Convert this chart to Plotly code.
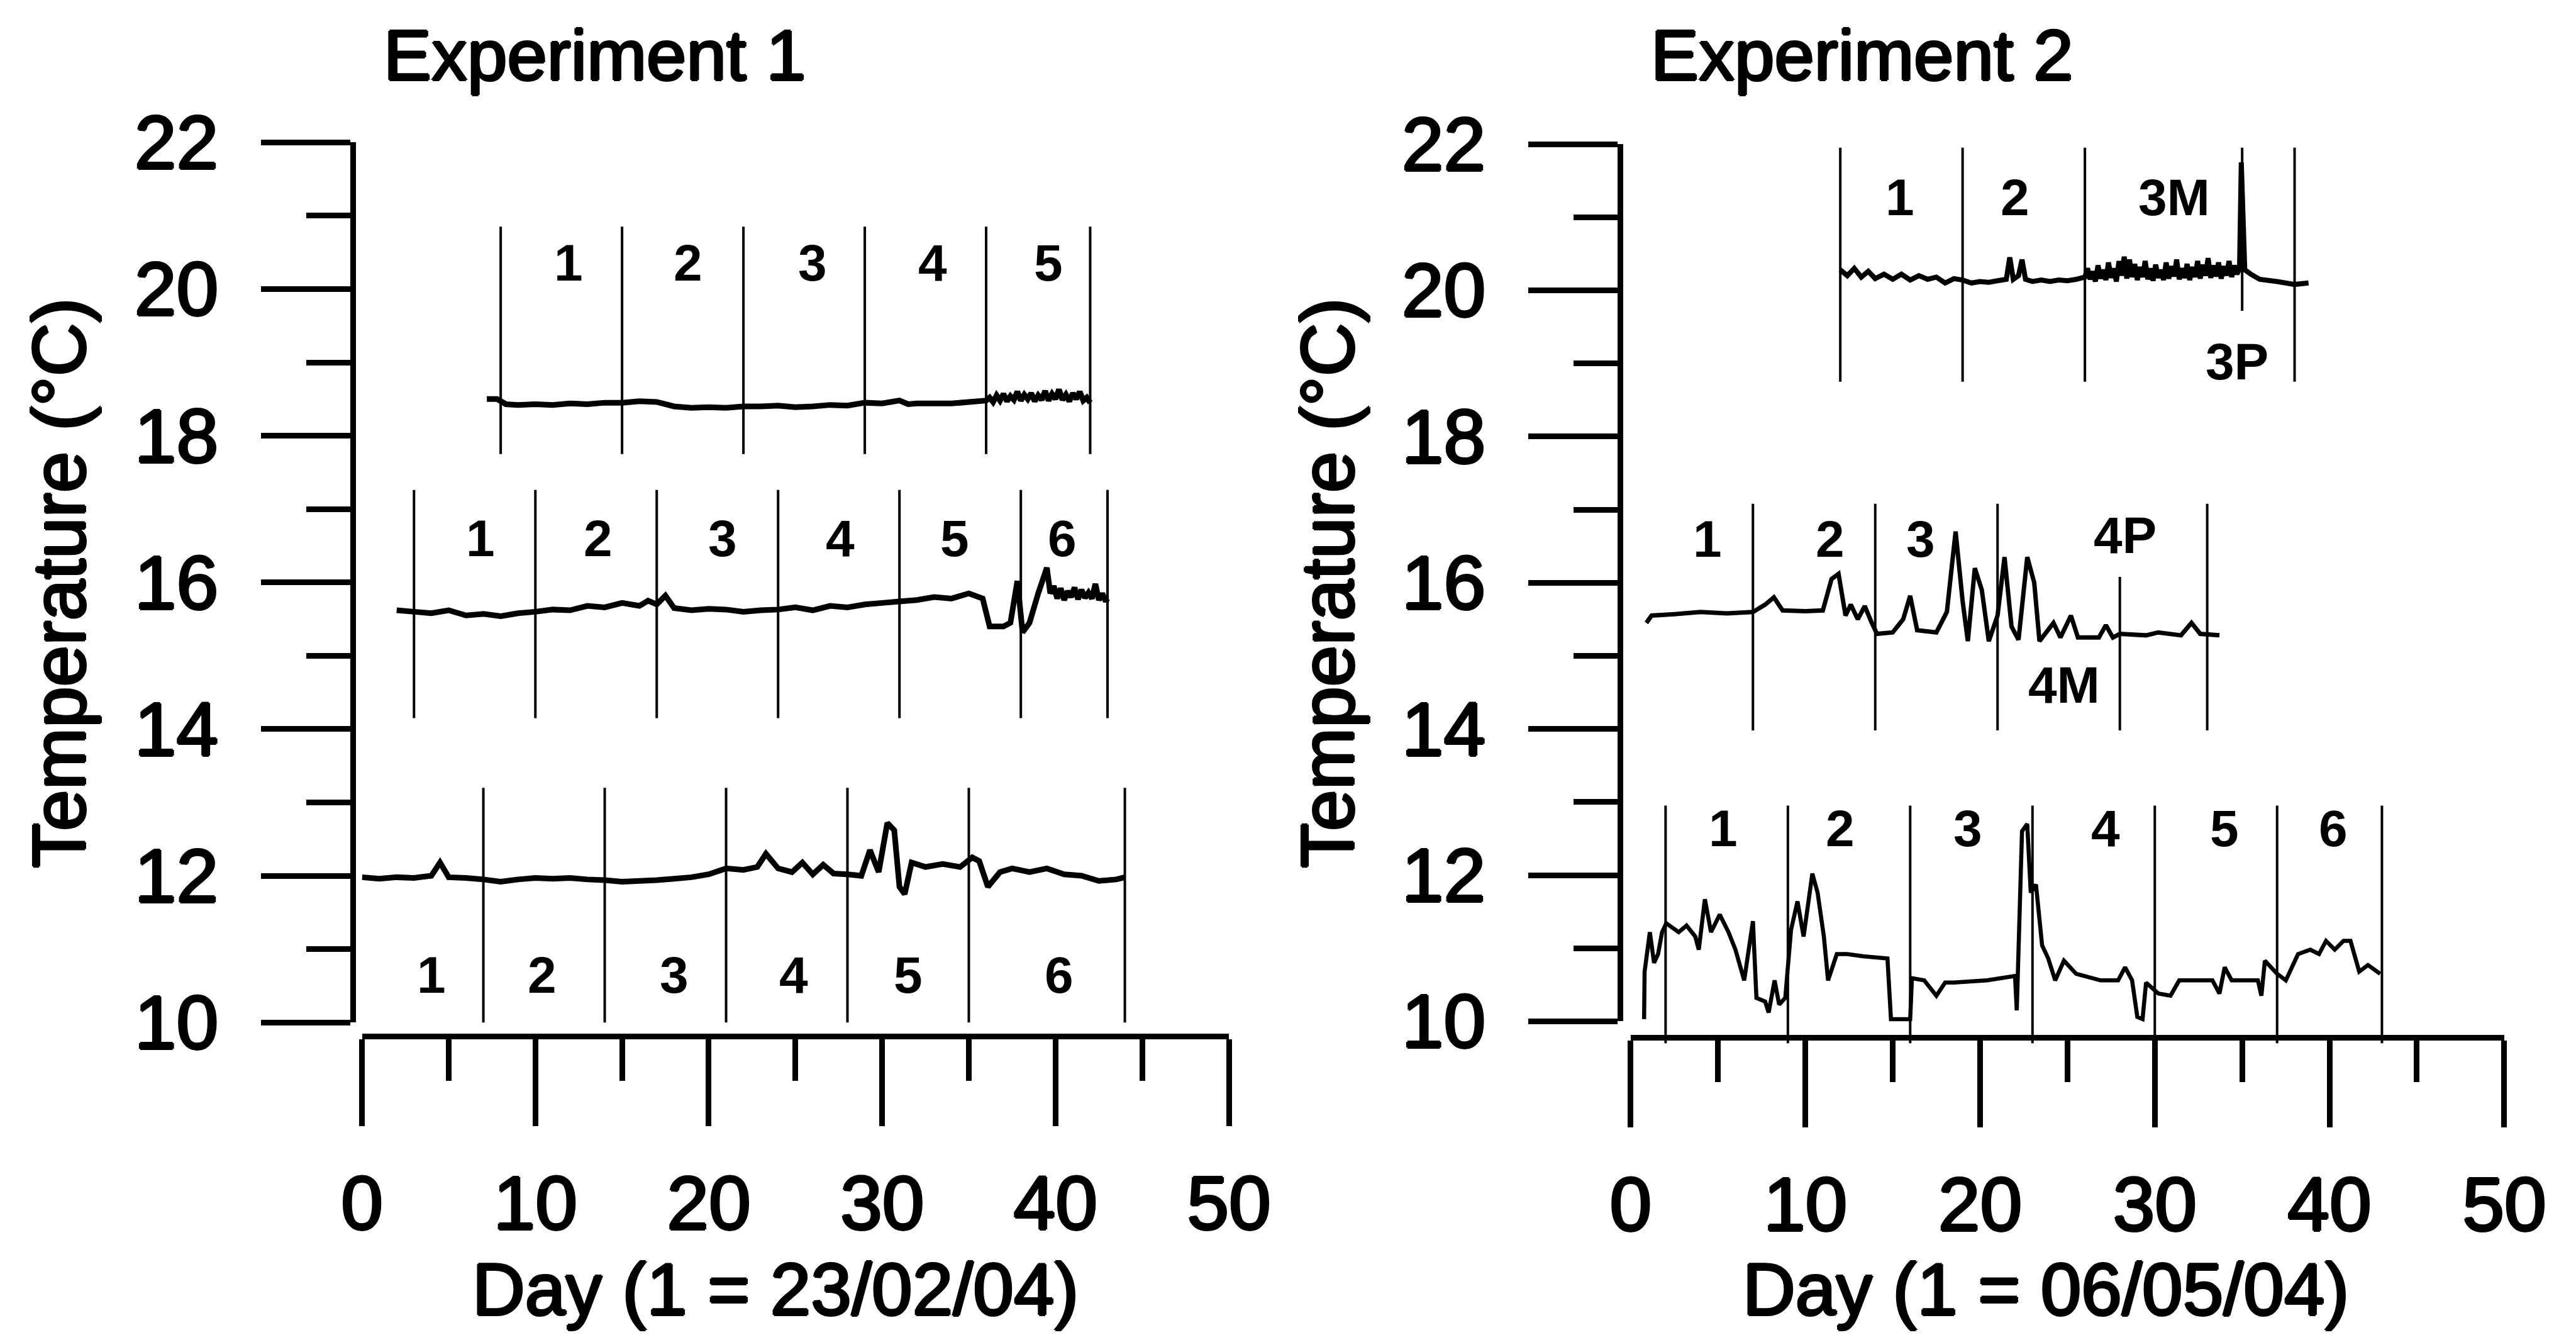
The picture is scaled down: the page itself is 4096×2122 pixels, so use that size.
import plotly.graph_objects as go

# ---------------------------------------------------------------
# Experiment 1  (day 1 = 23/02/04) - three water-temperature records
# ---------------------------------------------------------------
e1_top_day = [7.2, 7.8, 8.3, 9.0, 10.0, 11.0, 12.0, 13.0, 14.0, 15.0,
              16.0, 17.0, 18.0, 19.0, 20.0, 21.0, 22.0, 23.0, 24.0, 25.0,
              26.0, 27.0, 28.0, 29.0, 30.0, 31.0, 31.5, 32.0, 33.0, 34.0,
              35.0, 36.0, 36.2, 36.4, 36.6, 36.8, 37.0, 37.2, 37.4, 37.6,
              37.8, 38.0, 38.2, 38.4, 38.6, 38.8, 39.0, 39.2, 39.4, 39.6,
              39.8, 40.0, 40.2, 40.4, 40.6, 40.8, 41.0, 41.2, 41.4, 41.6,
              41.8, 42.0]
e1_top_temp = [18.50, 18.50, 18.43, 18.42, 18.43, 18.42, 18.44, 18.43, 18.45, 18.45,
               18.47, 18.46, 18.40, 18.38, 18.39, 18.38, 18.40, 18.40, 18.41, 18.39,
               18.40, 18.42, 18.41, 18.45, 18.44, 18.48, 18.43, 18.44, 18.44, 18.44,
               18.46, 18.48, 18.52, 18.46, 18.55, 18.48, 18.57, 18.47, 18.54, 18.49,
               18.60, 18.48, 18.56, 18.50, 18.58, 18.47, 18.55, 18.49, 18.61, 18.48,
               18.57, 18.50, 18.63, 18.49, 18.56, 18.47, 18.58, 18.50, 18.60, 18.48,
               18.52, 18.45]

e1_mid_day = [2.0, 3.0, 4.0, 5.0, 6.0, 7.0, 8.0, 9.0, 10.0, 11.0,
              12.0, 13.0, 14.0, 15.0, 16.0, 16.5, 17.0, 17.5, 18.0, 19.0,
              20.0, 21.0, 22.0, 23.0, 24.0, 25.0, 26.0, 27.0, 28.0, 29.0,
              30.0, 31.0, 32.0, 33.0, 34.0, 35.0, 35.8, 36.2, 37.0, 37.4,
              37.8, 38.1, 38.5, 39.0, 39.5, 39.7, 39.9, 40.1, 40.3, 40.5,
              40.7, 40.9, 41.1, 41.3, 41.5, 41.7, 41.9, 42.1, 42.3, 42.5,
              42.7, 42.9, 43.0]
e1_mid_temp = [15.62, 15.60, 15.58, 15.62, 15.55, 15.57, 15.54, 15.58, 15.60, 15.63,
               15.62, 15.68, 15.66, 15.72, 15.68, 15.75, 15.70, 15.82, 15.65, 15.62,
               15.64, 15.63, 15.60, 15.62, 15.63, 15.66, 15.62, 15.68, 15.66, 15.70,
               15.72, 15.74, 15.76, 15.80, 15.78, 15.85, 15.78, 15.40, 15.40, 15.45,
               16.02, 15.32, 15.45, 15.85, 16.20, 15.85, 15.95, 15.78, 15.92, 15.76,
               15.88, 15.80, 15.93, 15.77, 15.90, 15.79, 15.86, 15.78, 15.98, 15.76,
               15.85, 15.74, 15.78]

e1_low_day = [0.0, 1.0, 2.0, 3.0, 4.0, 4.5, 5.0, 6.0, 7.0, 8.0,
              9.0, 10.0, 11.0, 12.0, 13.0, 14.0, 15.0, 16.0, 17.0, 18.0,
              19.0, 20.0, 21.0, 22.0, 22.8, 23.3, 24.0, 24.8, 25.4, 26.0,
              26.6, 27.2, 28.0, 28.8, 29.3, 29.8, 30.3, 30.7, 31.0, 31.3,
              31.7, 32.5, 33.5, 34.5, 35.2, 35.6, 36.1, 36.8, 37.5, 38.5,
              39.5, 40.5, 41.5, 42.5, 43.5, 44.0]
e1_low_temp = [11.98, 11.96, 11.98, 11.97, 12.00, 12.18, 11.98, 11.97, 11.95, 11.92,
               11.95, 11.97, 11.96, 11.97, 11.95, 11.94, 11.92, 11.93, 11.94, 11.96,
               11.98, 12.02, 12.10, 12.08, 12.12, 12.30, 12.10, 12.05, 12.18, 12.02,
               12.15, 12.03, 12.02, 12.00, 12.35, 12.05, 12.72, 12.62, 11.85, 11.75,
               12.18, 12.12, 12.16, 12.12, 12.25, 12.20, 11.85, 12.05, 12.10, 12.05,
               12.10, 12.02, 12.00, 11.93, 11.95, 11.98]

# phase boundaries (day) and the temperature span of their marker lines
e1_top_bounds = [8, 15, 22, 29, 36, 42]
e1_top_span = [17.75, 20.85]
e1_mid_bounds = [3, 10, 17, 24, 31, 38, 43]
e1_mid_span = [14.15, 17.26]
e1_low_bounds = [7, 14, 21, 28, 35, 44]
e1_low_span = [10.0, 13.2]

# phase labels
e1_top_labels = ["1", "2", "3", "4", "5"]
e1_top_label_day = [11.9, 18.8, 26.0, 32.9, 39.6]
e1_top_label_temp = [20.36] * 5
e1_mid_labels = ["1", "2", "3", "4", "5", "6"]
e1_mid_label_day = [6.85, 13.6, 20.8, 27.6, 34.2, 40.4]
e1_mid_label_temp = [16.6] * 6
e1_low_labels = ["1", "2", "3", "4", "5", "6"]
e1_low_label_day = [4.0, 10.4, 18.0, 24.9, 31.5, 40.2]
e1_low_label_temp = [10.65] * 6

# ---------------------------------------------------------------
# Experiment 2  (day 1 = 06/05/04)
# ---------------------------------------------------------------
e2_top_day = [12.0, 12.4, 12.8, 13.2, 13.6, 14.0, 14.5, 15.0, 15.5, 16.0,
              16.5, 17.0, 17.5, 18.0, 18.5, 19.0, 19.5, 20.0, 20.5, 21.0,
              21.5, 21.7, 21.9, 22.2, 22.4, 22.6, 23.0, 23.5, 24.0, 24.5,
              25.0, 25.5, 26.0, 26.15, 26.3, 26.45, 26.6, 26.75, 26.9, 27.05,
              27.2, 27.35, 27.5, 27.65, 27.8, 27.95, 28.1, 28.25, 28.4, 28.55,
              28.7, 28.85, 29.0, 29.15, 29.3, 29.45, 29.6, 29.75, 29.9, 30.05,
              30.2, 30.35, 30.5, 30.65, 30.8, 30.95, 31.1, 31.25, 31.4, 31.55,
              31.7, 31.85, 32.0, 32.15, 32.3, 32.45, 32.6, 32.75, 32.9, 33.05,
              33.2, 33.35, 33.5, 33.65, 33.8, 33.95, 34.1, 34.25, 34.4, 34.55,
              34.7, 34.85, 34.95, 35.15, 35.5, 36.0, 37.0, 38.0, 38.8]
e2_top_temp = [20.28, 20.20, 20.30, 20.18, 20.26, 20.16, 20.22, 20.15, 20.22, 20.14,
               20.20, 20.15, 20.18, 20.10, 20.16, 20.14, 20.10, 20.12, 20.11, 20.13,
               20.15, 20.45, 20.15, 20.20, 20.42, 20.15, 20.12, 20.14, 20.12, 20.14,
               20.13, 20.15, 20.18, 20.30, 20.15, 20.26, 20.12, 20.34, 20.16, 20.28,
               20.14, 20.38, 20.17, 20.30, 20.12, 20.40, 20.20, 20.46, 20.16, 20.42,
               20.18, 20.36, 20.14, 20.32, 20.18, 20.40, 20.15, 20.30, 20.13, 20.35,
               20.17, 20.28, 20.14, 20.38, 20.16, 20.33, 20.19, 20.42, 20.15, 20.30,
               20.17, 20.36, 20.14, 20.32, 20.18, 20.40, 20.16, 20.35, 20.20, 20.44,
               20.17, 20.34, 20.19, 20.38, 20.16, 20.33, 20.20, 20.40, 20.18, 20.34,
               20.22, 20.30, 21.75, 20.28, 20.22, 20.15, 20.12, 20.08, 20.10]

e2_mid_day = [0.9, 1.2, 2.5, 4.0, 5.5, 7.0, 7.7, 8.2, 8.7, 10.0,
              11.0, 11.5, 11.9, 12.3, 12.6, 13.0, 13.4, 13.8, 14.1, 15.0,
              15.6, 16.0, 16.4, 17.5, 18.1, 18.6, 19.0, 19.3, 19.7, 20.1,
              20.5, 21.0, 21.4, 21.8, 22.2, 22.7, 23.1, 23.4, 24.2, 24.6,
              25.2, 25.6, 26.8, 27.2, 27.6, 28.0, 29.5, 30.2, 31.5, 32.1,
              32.6, 33.7]
e2_mid_temp = [15.45, 15.55, 15.57, 15.60, 15.58, 15.60, 15.70, 15.80, 15.62, 15.61,
               15.62, 16.05, 16.12, 15.55, 15.70, 15.50, 15.68, 15.45, 15.30, 15.32,
               15.50, 15.82, 15.35, 15.32, 15.60, 16.70, 15.75, 15.20, 16.20, 15.90,
               15.20, 15.55, 16.35, 15.40, 15.22, 16.35, 16.00, 15.20, 15.45, 15.25,
               15.55, 15.25, 15.25, 15.42, 15.25, 15.30, 15.28, 15.32, 15.28, 15.45,
               15.30, 15.28]

e2_low_day = [0.77, 0.8, 1.1, 1.34, 1.57, 1.8, 2.04, 2.75, 3.2, 3.7,
              3.9, 4.25, 4.6, 5.1, 5.6, 6.0, 6.5, 7.0, 7.2, 7.7,
              7.9, 8.24, 8.5, 8.85, 9.18, 9.55, 9.9, 10.4, 10.7, 11.06,
              11.3, 11.8, 12.4, 13.3, 14.7, 14.9, 16.0, 16.1, 16.8, 17.5,
              18.0, 18.5, 20.4, 22.0, 22.1, 22.4, 22.7, 22.9, 23.2, 23.55,
              23.9, 24.3, 24.8, 25.5, 26.9, 27.9, 28.3, 28.7, 29.0, 29.3,
              29.5, 30.2, 30.9, 31.4, 33.3, 33.7, 34.0, 34.4, 35.9, 36.1,
              36.3, 37.0, 37.5, 38.2, 38.9, 39.4, 39.8, 40.3, 40.8, 41.2,
              41.7, 42.2, 42.9]
e2_low_temp = [10.03, 10.68, 11.22, 10.80, 10.92, 11.22, 11.34, 11.22, 11.31, 11.16,
               10.98, 11.67, 11.22, 11.46, 11.22, 10.98, 10.56, 11.37, 10.32, 10.27,
               10.12, 10.56, 10.23, 10.32, 11.25, 11.64, 11.16, 12.02, 11.76, 11.16,
               10.56, 10.92, 10.92, 10.89, 10.86, 10.03, 10.03, 10.59, 10.56, 10.35,
               10.53, 10.53, 10.56, 10.62, 10.15, 12.60, 12.70, 11.76, 11.87, 11.04,
               10.86, 10.56, 10.83, 10.65, 10.56, 10.56, 10.74, 10.56, 10.06, 10.03,
               10.53, 10.38, 10.35, 10.56, 10.56, 10.38, 10.74, 10.56, 10.56, 10.35,
               10.83, 10.65, 10.56, 10.92, 10.98, 10.92, 11.10, 10.98, 11.10, 11.10,
               10.68, 10.77, 10.65]

e2_top_bounds = [12, 19, 26, 38]
e2_top_span = [18.75, 21.95]
e2_top_sub_bounds = [35]          # 3M / 3P split
e2_top_sub_span = [19.72, 21.95]
e2_mid_bounds = [7, 14, 21, 33]
e2_mid_span = [13.98, 17.08]
e2_mid_sub_bounds = [28]          # 4M / 4P split
e2_mid_sub_span = [13.98, 16.08]
e2_low_bounds = [2, 9, 16, 23, 30, 37, 43]
e2_low_span = [9.7, 12.95]

e2_top_labels = ["1", "2", "3M", "3P"]
e2_top_label_day = [15.4, 22.0, 31.1, 34.7]
e2_top_label_temp = [21.27, 21.27, 21.27, 19.03]
e2_mid_labels = ["1", "2", "3", "4P", "4M"]
e2_mid_label_day = [4.4, 11.4, 16.6, 28.3, 24.8]
e2_mid_label_temp = [16.6, 16.6, 16.6, 16.65, 14.6]
e2_low_labels = ["1", "2", "3", "4", "5", "6"]
e2_low_label_day = [5.3, 12.0, 19.3, 27.2, 34.0, 40.2]
e2_low_label_temp = [12.64] * 6

# axis ticks and text
y_major = [10, 12, 14, 16, 18, 20, 22]
x_major = [0, 10, 20, 30, 40, 50]
panel_titles = ["Experiment 1", "Experiment 2"]
x_titles = ["Day (1 = 23/02/04)", "Day (1 = 06/05/04)"]
y_title = "Temperature (°C)"

# ---------------------------------------------------------------
# page geometry (pixels on a 4096 x 2122 page)
# ---------------------------------------------------------------
W, H = 4096, 2122
FONT = "Liberation Sans, Arial, Helvetica, sans-serif"
INK = "black"
# a thin outline that gives the lettering its heavy printed look
HEAVY = "2px 0px 0px #000, -2px 0px 0px #000, 0px 2px 0px #000, 0px -2px 0px #000"

panels = [
    dict(x0=575.6, x50=1954.0, y22=226.3, y10=1625.2, xline=1647.0, yline=561.0,
         title_x=608, xtitle_x=1233, ytitle_x=94),
    dict(x0=2592.8, x50=3981.9, y22=229.0, y10=1623.4, xline=1649.0, yline=2576.0,
         title_x=2623, xtitle_x=3253, ytitle_x=2111),
]

records = [
    dict(series=[(e1_top_day, e1_top_temp, 9), (e1_mid_day, e1_mid_temp, 9),
                 (e1_low_day, e1_low_temp, 9)],
         bounds=[(e1_top_bounds, e1_top_span), (e1_mid_bounds, e1_mid_span),
                 (e1_low_bounds, e1_low_span)],
         labels=[(e1_top_labels, e1_top_label_day, e1_top_label_temp),
                 (e1_mid_labels, e1_mid_label_day, e1_mid_label_temp),
                 (e1_low_labels, e1_low_label_day, e1_low_label_temp)]),
    dict(series=[(e2_top_day, e2_top_temp, 8), (e2_mid_day, e2_mid_temp, 7),
                 (e2_low_day, e2_low_temp, 6.5)],
         bounds=[(e2_top_bounds, e2_top_span), (e2_top_sub_bounds, e2_top_sub_span),
                 (e2_mid_bounds, e2_mid_span), (e2_mid_sub_bounds, e2_mid_sub_span),
                 (e2_low_bounds, e2_low_span)],
         labels=[(e2_top_labels, e2_top_label_day, e2_top_label_temp),
                 (e2_mid_labels, e2_mid_label_day, e2_mid_label_temp),
                 (e2_low_labels, e2_low_label_day, e2_low_label_temp)]),
]


def fx(p):
    return p / W


def fy(p):
    return 1 - p / H


fig = go.Figure()
layout = dict(
    template="none",
    width=W, height=H,
    margin=dict(l=0, r=0, t=0, b=0, pad=0, autoexpand=False),
    paper_bgcolor="white", plot_bgcolor="rgba(0,0,0,0)",
    showlegend=False,
    annotations=[],
)

LINE_W = 8.5
for i, (pn, rec) in enumerate(zip(panels, records)):
    xa = "x" if i == 0 else "x2"
    xkey = "xaxis" if i == 0 else "xaxis2"
    yd = "y" if i == 0 else "y3"          # data axis (hidden)
    ydkey = "yaxis" if i == 0 else "yaxis3"
    yv = "y2" if i == 0 else "y4"         # visible temperature axis
    yvkey = "yaxis2" if i == 0 else "yaxis4"

    s = (pn["y10"] - pn["y22"]) / 12.0
    lo, hi = 9.6, 22.4
    layout[ydkey] = dict(
        domain=[fy(pn["y10"] + (10 - lo) * s), fy(pn["y22"] - (hi - 22) * s)],
        range=[lo, hi], visible=False, anchor=xa, fixedrange=True, automargin=False,
    )
    layout[yvkey] = dict(
        domain=[fy(pn["y10"]), fy(pn["y22"])], range=[10, 22],
        anchor="free", position=fx(pn["yline"]), side="left", automargin=False,
        showline=True, linecolor=INK, linewidth=LINE_W,
        showgrid=False, zeroline=False,
        tickmode="array", tickvals=y_major, ticks="outside",
        ticklen=142, tickwidth=LINE_W, tickcolor=INK,
        minor=dict(dtick=1, tick0=10, ticks="outside", ticklen=70,
                   tickwidth=LINE_W, tickcolor=INK, showgrid=False),
        tickfont=dict(family=FONT, size=120, color=INK, shadow=HEAVY),
        ticklabelstandoff=44,
    )
    layout[xkey] = dict(
        domain=[fx(pn["x0"]), fx(pn["x50"])], range=[0, 50],
        anchor="free", position=fy(pn["xline"]), side="bottom", automargin=False,
        showline=True, linecolor=INK, linewidth=LINE_W,
        showgrid=False, zeroline=False,
        tickmode="array", tickvals=x_major, ticks="outside",
        ticklen=138, tickwidth=LINE_W, tickcolor=INK,
        minor=dict(dtick=5, tick0=0, ticks="outside", ticklen=66,
                   tickwidth=LINE_W, tickcolor=INK, showgrid=False),
        tickfont=dict(family=FONT, size=120, color=INK, shadow=HEAVY),
        ticklabelstandoff=20,
    )

    # phase boundary markers
    for bounds, span in rec["bounds"]:
        bx, by = [], []
        for d in bounds:
            bx += [d, d, None]
            by += [span[0], span[1], None]
        fig.add_trace(go.Scatter(x=bx, y=by, xaxis=xa, yaxis=yd, mode="lines",
                                 line=dict(color=INK, width=4), hoverinfo="skip"))

    # temperature records
    for days, temps, w in rec["series"]:
        fig.add_trace(go.Scatter(x=days, y=temps, xaxis=xa, yaxis=yd, mode="lines",
                                 line=dict(color=INK, width=w, simplify=False)))

    # keep the visible temperature axis attached to a subplot
    fig.add_trace(go.Scatter(x=[0], y=[10], xaxis=xa, yaxis=yv, mode="markers",
                             marker=dict(size=1, color="rgba(0,0,0,0)"),
                             hoverinfo="skip"))

    # phase labels
    for texts, days, temps in rec["labels"]:
        for t, d, v in zip(texts, days, temps):
            layout["annotations"].append(dict(
                text=t, x=d, y=v, xref=xa, yref=yd, showarrow=False,
                xanchor="center", yanchor="middle",
                font=dict(family=FONT, size=82, color=INK, weight="bold")))

    # panel title and axis titles
    layout["annotations"].append(dict(
        text=panel_titles[i], x=fx(pn["title_x"]), y=fy(87), xref="paper", yref="paper",
        showarrow=False, xanchor="left", yanchor="middle",
        font=dict(family=FONT, size=114, color=INK, shadow=HEAVY)))
    layout["annotations"].append(dict(
        text=x_titles[i], x=fx(pn["xtitle_x"]), y=fy(2050), xref="paper", yref="paper",
        showarrow=False, xanchor="center", yanchor="middle",
        font=dict(family=FONT, size=116, color=INK, shadow=HEAVY)))
    layout["annotations"].append(dict(
        text=y_title, x=fx(pn["ytitle_x"]), y=fy(927), xref="paper", yref="paper",
        showarrow=False, xanchor="center", yanchor="middle", textangle=-90,
        font=dict(family=FONT, size=118, color=INK, shadow=HEAVY)))

fig.update_layout(**layout)
fig.write_html("out.html")
